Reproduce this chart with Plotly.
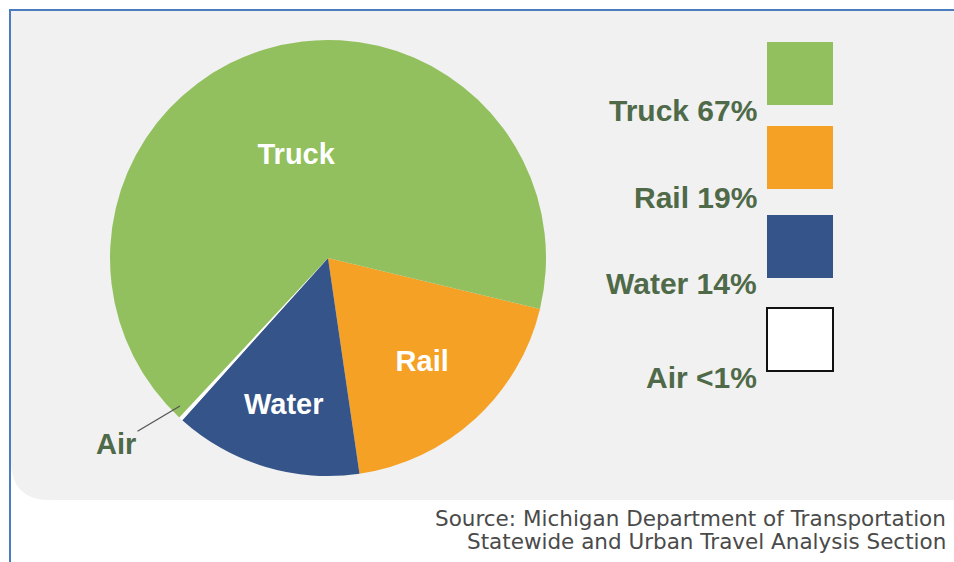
import plotly.graph_objects as go

# slice data, in drawing order (clockwise, starting at Rail)
modes = ['Rail', 'Water', 'Air', 'Truck']
shares = [19, 14, 0.3, 67]
colors = ['#f4a126', '#34548a', '#ffffff', '#93c05e']

# legend data (top to bottom)
legend_modes = ['Truck', 'Rail', 'Water', 'Air']
legend_pcts = ['67%', '19%', '14%', '<1%']
legend_colors = ['#93c05e', '#f4a126', '#34548a', '#ffffff']

source_lines = ['Source: Michigan Department of Transportation',
                'Statewide and Urban Travel Analysis Section']

W, H = 954, 562
TXT = '#4f6a48'
FONT_BOLD = 'Liberation Sans Narrow, Arial Narrow, Liberation Sans, Arial'


def fx(x):
    return x / W


def fy(y):
    return 1 - y / H


fig = go.Figure()

fig.add_trace(go.Pie(
    labels=modes,
    values=shares,
    sort=False,
    direction='clockwise',
    rotation=103.5,
    marker=dict(colors=colors, line=dict(width=0)),
    textinfo='label',
    textposition=['inside', 'inside', 'none', 'inside'],
    insidetextorientation='horizontal',
    textfont=dict(family=FONT_BOLD, size=29, color='white', weight='bold'),
    domain=dict(x=[fx(110), fx(546)], y=[fy(476), fy(40)]),
    showlegend=False,
    hoverinfo='label+percent',
))

shapes = [
    # light grey panel with rounded lower-left corner
    dict(type='path', xref='paper', yref='paper',
         path=(f'M {fx(11)},{fy(11)} L {fx(960)},{fy(11)} L {fx(960)},{fy(500)} '
               f'L {fx(50)},{fy(500)} Q {fx(11)},{fy(500)} {fx(11)},{fy(461)} Z'),
         fillcolor='#f1f1f1', line=dict(width=0), layer='below'),
    # blue frame
    dict(type='line', xref='paper', yref='paper', x0=fx(9), x1=fx(960), y0=fy(10), y1=fy(10),
         line=dict(color='#4a7cc0', width=2)),
    dict(type='line', xref='paper', yref='paper', x0=fx(10), x1=fx(10), y0=fy(9), y1=0,
         line=dict(color='#4a7cc0', width=2)),
]

box_tops = [42, 126, 215, 308]
text_mid = [110, 197, 283, 377]
annotations = []
for name, pct, col, top, ty in zip(legend_modes, legend_pcts, legend_colors, box_tops, text_mid):
    shapes.append(dict(type='rect', xref='paper', yref='paper',
                       x0=fx(767), x1=fx(833), y0=fy(top + 63), y1=fy(top),
                       fillcolor=col,
                       line=dict(color='#111111' if col == '#ffffff' else col,
                                 width=2 if col == '#ffffff' else 0)))
    annotations.append(dict(xref='paper', yref='paper', x=fx(759), y=fy(ty),
                            xanchor='right', yanchor='middle', showarrow=False,
                            text=f'{name} {pct}',
                            font=dict(family=FONT_BOLD, size=30, color=TXT, weight='bold')))

# Air callout
annotations.append(dict(xref='paper', yref='paper', x=fx(180), y=fy(406),
                        ax=-64, ay=38, showarrow=True, arrowhead=0, arrowwidth=1.3,
                        arrowcolor='#555555', text='Air',
                        font=dict(family=FONT_BOLD, size=29, color=TXT, weight='bold')))

for line, ly in zip(source_lines, [518, 541]):
    annotations.append(dict(xref='paper', yref='paper', x=fx(948), y=fy(ly),
                            xanchor='right', yanchor='middle', showarrow=False,
                            text=line,
                            font=dict(family='DejaVu Sans, Verdana', size=21.5, color='#4a4a4a')))

fig.update_layout(
    width=W, height=H,
    margin=dict(l=0, r=0, t=0, b=0),
    paper_bgcolor='white',
    plot_bgcolor='white',
    shapes=shapes,
    annotations=annotations,
)

# drop the default page margin so the figure fills the window exactly
fig.write_html('out.html', config={'displayModeBar': False},
               post_script="document.body.style.margin='0';document.body.style.overflow='hidden';")
